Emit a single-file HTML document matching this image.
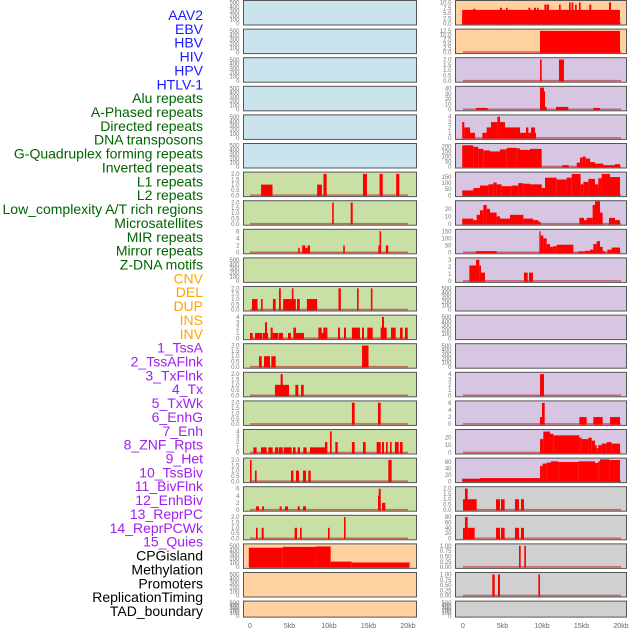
<!DOCTYPE html>
<html><head><meta charset="utf-8"><style>
html,body{margin:0;padding:0;background:#fff;width:630px;height:630px;overflow:hidden}
svg{display:block;font-family:"Liberation Sans",sans-serif}
</style></head><body>
<svg id="chart" width="630" height="630" viewBox="0 0 630 630"></svg>
<script>
const trackLabels=["AAV2","EBV","HBV","HIV","HPV","HTLV-1","Alu repeats","A-Phased repeats","Directed repeats","DNA transposons","G-Quadruplex forming repeats","Inverted repeats","L1 repeats","L2 repeats","Low_complexity A/T rich regions","Microsatellites","MIR repeats","Mirror repeats","Z-DNA motifs","CNV","DEL","DUP","INS","INV","1_TssA","2_TssAFlnk","3_TxFlnk","4_Tx","5_TxWk","6_EnhG","7_Enh","8_ZNF_Rpts","9_Het","10_TssBiv","11_BivFlnk","12_EnhBiv","13_ReprPC","14_ReprPCWk","15_Quies","CPGisland","Methylation","Promoters","ReplicationTiming","TAD_boundary"];
const labelGroups=[0,0,0,0,0,0,1,1,1,1,1,1,1,1,1,1,1,1,1,2,2,2,2,2,3,3,3,3,3,3,3,3,3,3,3,3,3,3,3,4,4,4,4,4];
const xTickKb=[0,5,10,15,20];
const xTickLabels=["0","5kb","10kb","15kb","20kb"];
const leftBg=["b","b","b","b","b","b","g","g","g","g","g","g","g","g","g","g","g","g","g","o","o","o"];
const rightBg=["o","o","l","l","l","l","l","l","l","l","l","l","l","l","l","l","l","y","y","y","y","y"];
const emptyTicks=[0,100,200,300,400,500];
const leftTop=[520,520,520,520,520,520,2.05,2.05,6.2,520,2.05,4.1,2.05,2.05,2.05,4.1,2.05,6.2,2.05,520,520,520];
const leftTicks=[emptyTicks,emptyTicks,emptyTicks,emptyTicks,emptyTicks,emptyTicks,[0,0.5,1,1.5,2],[0,0.5,1,1.5,2],[0,2,4,6],emptyTicks,[0,0.5,1,1.5,2],[0,1,2,3,4],[0,0.5,1,1.5,2],[0,0.5,1,1.5,2],[0,0.5,1,1.5,2],[0,1,2,3,4],[0,0.5,1,1.5,2],[0,2,4,6],[0,0.5,1,1.5,2],emptyTicks,emptyTicks,emptyTicks];
const leftBars=[[],[],[],[],[],[],
[[1.4,2.85,1],[8.5,9.1,1],[9.3,9.7,2],[14.3,14.8,2],[16.4,16.8,2],[18.5,18.9,2]],
[[10.4,10.6,2],[12.75,13.0,2]],
[[6.1,6.3,1.3],[6.6,7.0,2],[7.0,7.3,1.3],[7.3,7.6,2],[11.8,12.0,2],[16.25,16.55,2],[16.4,16.6,6],[17.2,17.5,2]],
[],
[[0.25,0.95,1],[1.4,1.6,1],[2.9,3.25,1],[3.67,3.9,2],[4.2,5.8,1],[5.3,5.5,2],[5.95,6.3,1],[7.2,8.5,1],[11.2,11.5,2],[13.55,13.75,2],[15.3,15.5,2]],
[[0,0.35,1],[0.63,1.27,1],[1.27,1.52,1],[1.6,2.28,1],[1.9,2.15,3],[2.62,2.87,2],[2.87,3.59,1],[3.67,4.18,1],[4.81,5.19,1],[5.49,5.82,2],[5.82,6.84,1],[8.65,9.07,2],[9.07,9.79,1],[9.28,9.54,2],[9.54,9.79,2],[11.14,11.39,2],[11.9,12.15,2],[12.9,13.92,2],[14.18,14.43,2],[14.85,15.53,2],[16.54,17.3,2],[16.71,16.96,4],[17.85,18.44,2],[18.99,19.32,2],[19.62,19.96,2]],
[[1.14,1.48,1],[1.77,2.53,1],[2.7,3.25,1],[14.18,15.0,2]],
[[3.16,4.94,1],[3.88,4.14,2],[5.74,6.12,1],[6.46,6.8,1]],
[[12.9,13.25,2],[16.2,16.54,2]],
[[0.42,0.84,1],[1.39,2.11,1],[2.32,2.87,1],[3.16,3.59,1],[3.67,4.14,1],[4.26,5.27,1],[5.44,5.78,1],[6.03,6.33,1],[6.75,7.17,1],[7.59,9.58,1],[9.49,9.79,2],[10.13,10.34,4],[10.8,11.1,2],[12.9,13.25,2],[14.3,14.64,2],[16.03,16.54,2],[16.71,16.96,2],[17.22,17.43,2],[17.72,17.93,2],[18.35,18.82,2],[18.99,19.32,2]],
[[0,0.2,2],[0.63,0.84,1],[5.19,5.49,1],[5.82,6.2,1],[6.71,7.09,1],[7.38,7.68,1],[17.51,17.93,2]],
[[0.76,1.14,1],[1.52,1.77,1],[3.75,4.0,1],[4.43,4.81,1],[6.03,6.29,1],[6.71,7.09,1],[16.2,16.54,4],[16.3,16.54,6],[16.71,17.13,2]],
[[0.76,0.97,1],[1.48,1.73,1],[5.65,5.95,1],[6.33,6.54,1],[9.87,10.08,1],[11.9,12.1,2]],
[[-0.15,4.14,460],[4.14,8.36,480],[8.36,10.21,490],[10.21,12.87,130],[12.87,20.2,110]],
[],[]];
const rightTop=[10.3,12.8,2.05,42,4.1,215,180,29,155,3.08,520,520,520,4.1,6.2,29,68,2.05,82,1.03,1.03,520];
const rightTicks=[[0,2.5,5,7.5,10],[0,2.5,5,7.5,10,12.5],[0,0.5,1,1.5,2],[0,10,20,30,40],[0,1,2,3,4],[0,50,100,150,200],[0,50,100,150],[0,10,20],[0,50,100,150],[0,1,2,3],emptyTicks,emptyTicks,emptyTicks,[0,1,2,3,4],[0,2,4,6],[0,10,20],[0,20,40,60],[0,0.5,1,1.5,2],[0,20,40,60,80],[0,0.25,0.5,0.75,1],[0,0.25,0.5,0.75,1],emptyTicks];
const rightBars=[
[[-0.1,19.87,6.5],[-0.1,0.68,4.5],[0.68,1.31,6],[1.31,1.56,7],[4.68,4.94,7.5],[5.44,5.65,7.5],[8.27,8.52,7.5],[8.99,9.24,7.5],[9.37,9.58,7.5],[10.3,10.59,9],[10.63,10.89,9],[12.15,12.36,9],[13.42,13.63,10],[13.75,13.97,10],[14.18,14.39,9],[14.68,14.89,10],[15.99,16.24,9],[18.48,18.73,10]],
[[9.75,19.87,12.5]],
[[9.75,9.96,2],[12.15,12.78,2]],
[[1.64,3.12,3],[9.75,10.25,42],[9.96,10.38,35],[10.25,10.59,5],[11.77,13.33,5],[16.5,17.34,3]],
[[-0.1,0.17,3],[0.17,0.89,2],[0.89,1.52,1],[2.45,2.99,1],[2.99,3.54,2],[3.54,4.35,3],[4.35,4.68,4],[4.68,5.32,3],[5.32,7.22,2],[7.22,7.97,1],[7.97,8.27,2],[8.27,8.61,1],[8.61,9.11,2],[9.11,9.24,1]],
[[-0.1,1.31,210],[1.31,1.94,195],[1.94,2.57,175],[2.57,3.42,160],[3.42,4.68,150],[4.68,5.53,170],[5.53,6.79,185],[6.79,7.22,180],[7.22,8.48,165],[8.48,9.96,175],[12.57,13.38,15],[14.39,14.81,40],[14.81,15.15,90],[15.15,15.53,100],[15.53,16.08,80],[16.08,16.71,45],[16.71,17.76,30],[17.76,18.19,15],[18.19,19.24,15],[19.24,19.87,25]],
[[-0.1,1.31,40],[1.31,2.15,60],[2.15,3.21,80],[3.21,3.84,90],[3.84,4.26,105],[4.26,4.89,90],[4.89,6.16,75],[6.16,7.0,80],[7.0,7.64,100],[7.64,8.48,95],[8.48,9.96,90],[9.96,10.38,60],[10.38,11.86,145],[11.86,13.12,130],[13.12,13.76,145],[13.76,14.89,175],[14.89,15.23,90],[15.23,15.87,110],[15.87,16.71,135],[16.71,17.13,90],[17.13,17.55,140],[17.55,18.61,175],[18.61,19.87,150]],
[[-0.1,1.31,7],[1.31,1.73,5],[1.73,2.15,12],[2.15,2.57,18],[2.57,3.0,25],[3.0,3.42,20],[3.42,4.26,15],[4.26,4.68,10],[4.68,5.95,7],[5.95,7.64,12],[7.64,8.9,7],[8.9,9.54,5],[9.54,9.83,3],[14.73,15.32,8],[15.32,15.65,5],[15.65,16.41,8],[16.41,16.71,25],[16.71,17.34,30],[17.34,17.68,15],[18.48,19.24,8],[19.24,19.87,5]],
[[1.65,4.26,10],[9.66,9.83,150],[9.83,10.17,120],[10.17,10.59,100],[10.59,11.01,60],[11.01,11.43,40],[11.43,11.86,45],[11.86,13.97,55],[14.6,15.44,8],[15.44,16.08,12],[16.08,16.5,20],[16.5,16.92,60],[16.92,17.34,80],[17.34,17.68,40],[17.68,17.97,10],[18.27,18.82,20],[18.82,19.87,35]],
[[0.8,1.65,2.2],[1.65,2.07,3],[2.07,2.28,2.2],[2.28,2.78,1.2],[7.72,8.19,1.2],[8.35,8.86,1.2]],
[],[],[],
[[9.75,10.25,4]],
[[9.75,10.04,2],[10.0,10.34,6],[14.73,15.65,2],[16.5,17.68,2],[18.61,19.87,2]],
[[9.75,10.17,18],[10.17,11.01,28],[11.01,11.43,25],[11.43,14.73,23],[14.73,15.02,20],[15.02,15.87,18],[15.87,16.29,20],[16.29,16.71,16],[16.71,16.92,10],[16.92,17.13,6],[17.13,17.55,10],[17.55,18.19,12],[18.19,18.82,14],[18.82,19.87,12]],
[[-0.1,2.15,8],[2.15,9.75,10],[9.75,10.08,48],[10.08,10.59,55],[10.59,11.14,58],[11.14,12.07,62],[12.07,14.6,60],[14.6,16.71,62],[16.71,17.13,57],[17.13,17.34,62],[17.34,18.52,68],[18.52,19.87,66]],
[[0,0.3,1],[0.25,0.59,2],[0.3,1.73,1],[4.18,4.68,1],[4.81,5.27,1],[6.58,7.09,1],[7.34,7.72,1]],
[[0,0.25,40],[0.25,0.59,80],[0.59,1.48,40],[4.18,4.68,40],[4.81,5.27,40],[6.58,7.09,40],[7.34,7.72,40]],
[[7.09,7.3,1],[7.76,7.97,1]],
[[3.71,4.01,1],[4.43,4.68,1],[9.54,9.75,1]],
[]];

const NS="http://www.w3.org/2000/svg";
const svg=document.getElementById('chart');
const groupColors=["#1a1aff","#006400","#ffa500","#a020f0","#000000"];
const bgColors={b:"#c9e4ec",g:"#c8e0a5",o:"#ffd0a0",l:"#d6c6e2",y:"#d0d0d0"};
function mk(tag,attrs,parent){const e=document.createElementNS(NS,tag);for(const k in attrs)e.setAttribute(k,attrs[k]);(parent||svg).appendChild(e);return e;}
function fmt(v,ticks){const dec=ticks.some(t=>Math.abs(t-Math.round(t))>1e-9);if(!dec)return String(v);const d=ticks.some(t=>Math.abs(t*10-Math.round(t*10))>1e-9)?2:1;return v.toFixed(d);}

trackLabels.forEach((t,i)=>{
  const el=mk('text',{x:203,y:15+i*13.86+5,'text-anchor':'end','font-size':14,fill:groupColors[labelGroups[i]]});
  el.textContent=t;
  
  
});

function drawPanel(side,i,bg,top,ticks,bars){
  const px=side==='left'?243.5:455.5, pw=side==='left'?173:171, x0=side==='left'?250:463;
  const py=0.5+i*28.6, ph=(i===21)?16:24.5;
  const xs=kb=>x0+kb*7.9;
  const y0=py+ph-1.3, yTop=py+1.3;
  const ys=v=>y0-(v/top)*(y0-yTop);
  const g=mk('g',{});
  
  
  mk('rect',{x:px,y:py,width:pw,height:ph,fill:bgColors[bg],stroke:'#555',"stroke-width":1},g);
  if(top<100||bars.length){
    mk('rect',{x:xs(0),y:y0-1,width:xs(20)-xs(0),height:1.6,fill:'rgba(190,20,20,0.55)'},g);
  }
  bars.forEach(b=>{
    const r=mk('rect',{x:xs(b[0]),y:ys(b[2]),width:Math.max(0.8,xs(b[1])-xs(b[0])),height:y0-ys(b[2])+0.6,fill:'#ff0000'},g);
    
    
  });
  ticks.forEach(t=>{
    const tx=mk('text',{x:px-4,y:ys(t)+2,'text-anchor':'end','font-size':6,fill:'#777'},g);
    tx.textContent=fmt(t,ticks);
    
    
  });
}
for(let i=0;i<22;i++){
  drawPanel('left',i,leftBg[i],leftTop[i],leftTicks[i],leftBars[i]);
  drawPanel('right',i,rightBg[i],rightTop[i],rightTicks[i],rightBars[i]);
}
[250,463].forEach((x0,s)=>{
  xTickKb.forEach((k,j)=>{
    const t=mk('text',{x:x0+k*7.9,y:628,'text-anchor':'middle','font-size':7,fill:'#666'});
    t.textContent=xTickLabels[j];
    
    
  });
});
</script>
</body></html>
